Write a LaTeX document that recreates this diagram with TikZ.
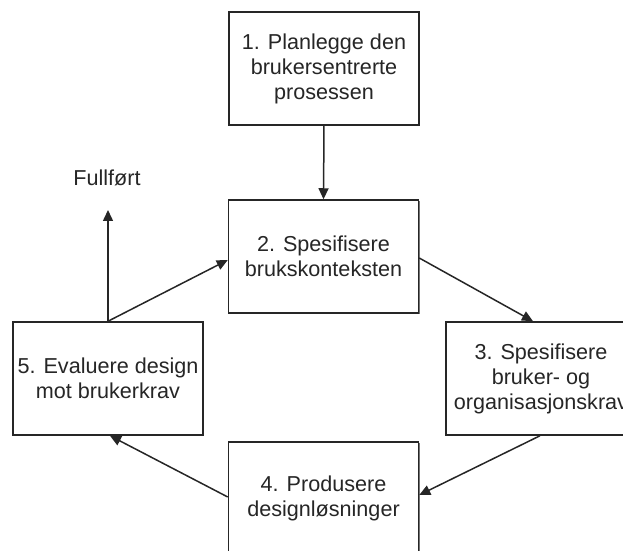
\documentclass[tikz,border=0pt]{standalone}
\usepackage{fontspec}
\setmainfont{Liberation Sans}
\usetikzlibrary{arrows.meta,shadows}
\begin{document}
\begin{tikzpicture}[x=0.5pt,y=-0.5pt,
  box/.style={draw=black!85, line width=0.75pt, fill=white,
    minimum width=95pt, minimum height=56.5pt, inner sep=0pt, align=center,
    font=\fontsize{10.8}{12.5}\selectfont, text=black!85,
    drop shadow={shadow xshift=0.6pt, shadow yshift=-0.6pt, fill=black!55, opacity=1}},
  conn/.style={draw=black!85, line width=0.75pt, -{Triangle[length=5.5pt,width=5pt]}},
  lbl/.style={font=\fontsize{10.8}{12.5}\selectfont, text=black!85, inner sep=0pt}]
\useasboundingbox (0,0) rectangle (623,551);
\clip (0,0) rectangle (623,551);
\node[box] (b1) at (324,68.5) {1. Planlegge den\\brukersentrerte\\prosessen};
\node[box] (b2) at (323.5,256.5) {2. Spesifisere\\brukskonteksten};
\node[box] (b3) at (541,378.5) {3. Spesifisere\\bruker- og\\organisasjonskrav};
\node[box] (b4) at (323.5,498.5) {4. Produsere\\designløsninger};
\node[box] (b5) at (108,378.5) {5. Evaluere design\\mot brukerkrav};
\node[lbl] (full) at (107,178) {Fullført};
\coordinate (done) at (108,210);
\draw[conn] (b1.south) -- (b2.north);
\draw[conn] ([yshift=-0.75pt]b2.east) -- ([xshift=-4pt]b3.north);
\draw[conn] ([xshift=-0.5pt]b3.south) -- ([yshift=1.75pt]b4.east);
\draw[conn] ([yshift=0.75pt]b4.west) -- ([xshift=1pt]b5.south);
\draw[conn] (b5.north) -- ([yshift=-1.75pt]b2.west);
\draw[conn] (b5.north) -- (done);
\end{tikzpicture}
\end{document}
